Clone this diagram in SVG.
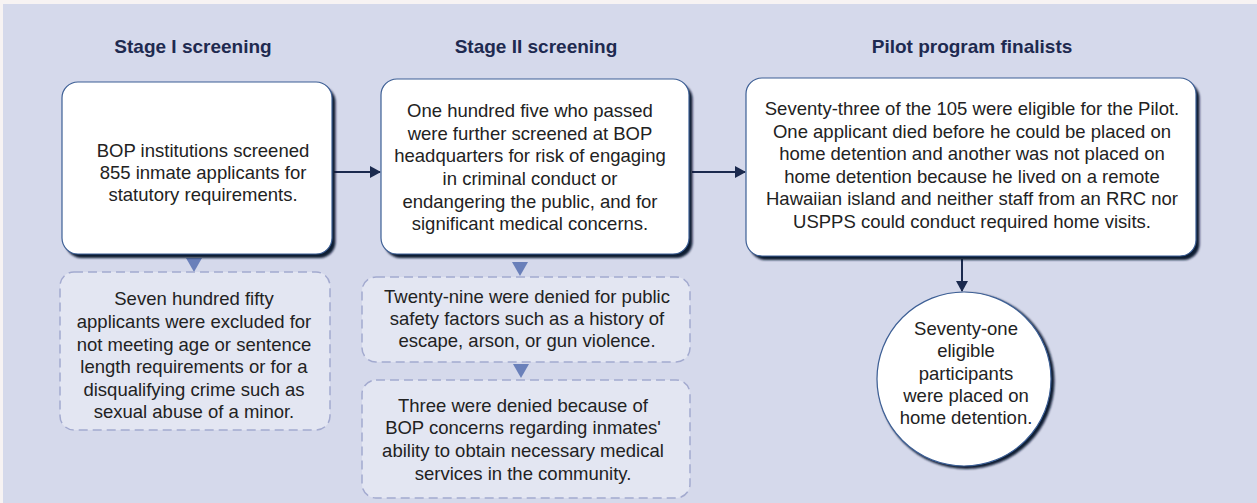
<svg xmlns="http://www.w3.org/2000/svg" width="1257" height="503" viewBox="0 0 1257 503">
<style>
.title{font-family:"Liberation Sans",Arial,sans-serif;font-weight:bold;font-size:19px;fill:#1e2a50;text-anchor:middle}
.t{font-family:"Liberation Sans",Arial,sans-serif;font-size:18.5px;fill:#222;text-anchor:middle}
.box{fill:#fff;stroke:#3d5f95;stroke-width:1.2}
.shadow{fill:#0f1a33}
.dbox{fill:#e3e6f2;stroke:#a3aacf;stroke-width:1.5;stroke-dasharray:9 5}
.conn{stroke:#1b2a4e;stroke-width:2;fill:none}
.tri{fill:#6a80ba}
</style>
<defs>
<filter id="blur" x="-5%" y="-5%" width="110%" height="110%"><feGaussianBlur stdDeviation="0.8"/></filter>
<marker id="ah" markerWidth="12" markerHeight="12" refX="10" refY="6" orient="auto" markerUnits="userSpaceOnUse"><path d="M0,0 L11,6 L0,12 Z" fill="#1b2a4e"/></marker>
</defs>
<rect x="0" y="0" width="1257" height="503" fill="#f7f3f3"/>
<rect x="3" y="4" width="1254" height="499" fill="#d5d9eb"/>

<g id="titles">
<text class="title" x="193" y="53">Stage I screening</text>
<text class="title" x="536" y="53">Stage II screening</text>
<text class="title" x="972" y="53">Pilot program finalists</text>
</g>

<g id="connectors">
<line class="conn" x1="334" y1="172" x2="380" y2="172" marker-end="url(#ah)"/>
<line class="conn" x1="692" y1="172" x2="745" y2="172" marker-end="url(#ah)"/>
<line class="conn" x1="962" y1="259" x2="962" y2="291" marker-end="url(#ah)"/>
<path class="tri" d="M186,258 L202,258 L194,272 Z"/>
<path class="tri" d="M512,262 L528,262 L520,276 Z"/>
<path class="tri" d="M513,364 L529,364 L521,378 Z"/>
</g>

<g id="stage1">
<rect class="shadow" x="65.5" y="86" width="270" height="172" rx="16" filter="url(#blur)"/>
<rect class="box" x="62" y="82" width="270" height="172" rx="16"/>
<text class="t" x="203" y="157">BOP institutions screened</text>
<text class="t" x="203" y="179">855 inmate applicants for</text>
<text class="t" x="203" y="201">statutory requirements.</text>
</g>

<g id="stage2">
<rect class="shadow" x="384.5" y="83" width="308" height="175" rx="16" filter="url(#blur)"/>
<rect class="box" x="381" y="79" width="308" height="175" rx="16"/>
<text class="t" x="530" y="117">One hundred five who passed</text>
<text class="t" x="530" y="140">were further screened at BOP</text>
<text class="t" x="530" y="162">headquarters for risk of engaging</text>
<text class="t" x="530" y="185">in criminal conduct or</text>
<text class="t" x="530" y="208">endangering the public, and for</text>
<text class="t" x="530" y="230">significant medical concerns.</text>
</g>

<g id="pilot">
<rect class="shadow" x="749.5" y="82" width="450" height="178" rx="16" filter="url(#blur)"/>
<rect class="box" x="746" y="78" width="450" height="178" rx="16"/>
<text class="t" x="972" y="115">Seventy-three of the 105 were eligible for the Pilot.</text>
<text class="t" x="972" y="138">One applicant died before he could be placed on</text>
<text class="t" x="972" y="160">home detention and another was not placed on</text>
<text class="t" x="972" y="183">home detention because he lived on a remote</text>
<text class="t" x="972" y="205">Hawaiian island and neither staff from an RRC nor</text>
<text class="t" x="972" y="228">USPPS could conduct required home visits.</text>
</g>

<g id="placed">
<circle class="shadow" cx="966.5" cy="381" r="88" filter="url(#blur)"/>
<circle class="box" cx="964" cy="379" r="87"/>
<text class="t" x="966" y="335">Seventy-one</text>
<text class="t" x="966" y="357">eligible</text>
<text class="t" x="966" y="380">participants</text>
<text class="t" x="966" y="402">were placed on</text>
<text class="t" x="966" y="424">home detention.</text>
</g>

<g id="excluded1">
<rect class="dbox" x="60" y="272" width="270" height="158" rx="14"/>
<text class="t" x="194" y="305">Seven hundred fifty</text>
<text class="t" x="194" y="328">applicants were excluded for</text>
<text class="t" x="194" y="351">not meeting age or sentence</text>
<text class="t" x="194" y="373">length requirements or for a</text>
<text class="t" x="194" y="396">disqualifying crime such as</text>
<text class="t" x="194" y="418">sexual abuse of a minor.</text>
</g>

<g id="denied29">
<rect class="dbox" x="362" y="277" width="328" height="85" rx="14"/>
<text class="t" x="527" y="303">Twenty-nine were denied for public</text>
<text class="t" x="527" y="325">safety factors such as a history of</text>
<text class="t" x="527" y="347">escape, arson, or gun violence.</text>
</g>

<g id="denied3">
<rect class="dbox" x="362" y="380" width="328" height="118" rx="14"/>
<text class="t" x="523" y="412">Three were denied because of</text>
<text class="t" x="523" y="434">BOP concerns regarding inmates'</text>
<text class="t" x="523" y="457">ability to obtain necessary medical</text>
<text class="t" x="523" y="480">services in the community.</text>
</g>
</svg>
